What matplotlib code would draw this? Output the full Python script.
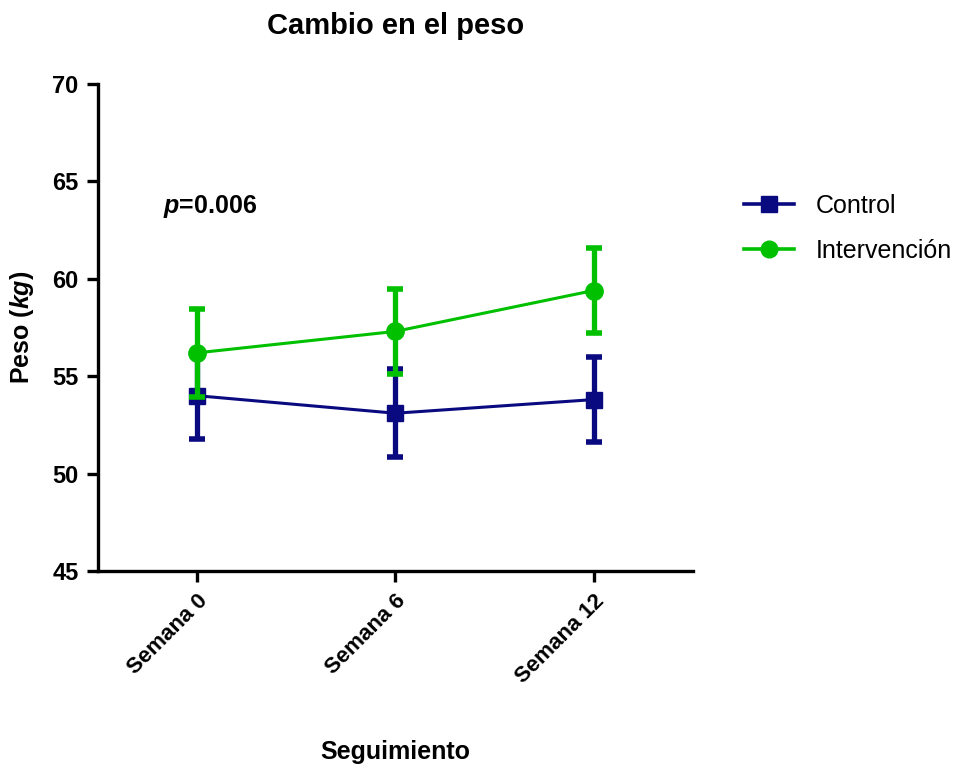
import matplotlib

matplotlib.use("Agg")

import matplotlib.pyplot as plt
from matplotlib.lines import Line2D

plt.rcParams["font.family"] = ["Liberation Sans", "DejaVu Sans"]
plt.rcParams["mathtext.fontset"] = "custom"
plt.rcParams["mathtext.rm"] = "Liberation Sans:bold"
plt.rcParams["mathtext.it"] = "Liberation Sans:italic:bold"
plt.rcParams["mathtext.bf"] = "Liberation Sans:bold"

weeks = ["Semana 0", "Semana 6", "Semana 12"]
control_mean = [54.0, 53.1, 53.8]
control_sd = [2.2, 2.25, 2.2]
interv_mean = [56.2, 57.3, 59.4]
interv_sd = [2.25, 2.2, 2.2]
p_value = "0.006"

NAVY = "#0a0a80"
GREEN = "#00c000"

fig = plt.figure(figsize=(9.77, 7.71), dpi=100)
ax = fig.add_axes([0.1003, 0.2594, 0.6087, 0.6316])

x = list(range(len(weeks)))
ax.errorbar(x, control_mean, yerr=control_sd, color=NAVY, lw=2.2, elinewidth=3.8,
            capsize=6, capthick=4, marker="s", ms=12, zorder=3)
ax.errorbar(x, interv_mean, yerr=interv_sd, color=GREEN, lw=2.2, elinewidth=3.8,
            capsize=6, capthick=4, marker="o", ms=12.5, zorder=4)

ax.set_xlim(-0.5, 2.5)
ax.set_ylim(45, 70)
ax.set_yticks([45, 50, 55, 60, 65, 70])
ax.set_xticks(x)
ax.set_xticklabels(weeks, rotation=45, ha="right", rotation_mode="anchor",
                   fontsize=16, fontweight="bold")
for lab in ax.get_yticklabels():
    lab.set_fontsize(17)
    lab.set_fontweight("bold")

for side in ("top", "right"):
    ax.spines[side].set_visible(False)
for side in ("left", "bottom"):
    ax.spines[side].set_linewidth(2.4)
ax.tick_params(axis="both", direction="out", length=8, width=2.4, pad=6)

ax.set_title("Cambio en el peso", fontsize=21, fontweight="bold", pad=36)
ax.set_ylabel(r"Peso $\mathit{(kg)}$", fontsize=18, fontweight="bold", labelpad=12)
ax.set_xlabel("Seguimiento", fontsize=18, fontweight="bold", labelpad=38)

ax.text(-0.17, 63.7, r"$\mathit{p}$=" + p_value, fontsize=18, fontweight="bold",
        va="center", ha="left")

handles = [
    Line2D([], [], color=NAVY, lw=2.6, marker="s", ms=11, label="Control"),
    Line2D([], [], color=GREEN, lw=2.6, marker="o", ms=12, label="Intervención"),
]
fig.legend(handles=handles, loc="upper left", bbox_to_anchor=(0.738, 0.778),
           frameon=False, fontsize=18, handlelength=2.0, labelspacing=0.85,
           handletextpad=0.9)

fig.savefig("out.png", dpi=100)
